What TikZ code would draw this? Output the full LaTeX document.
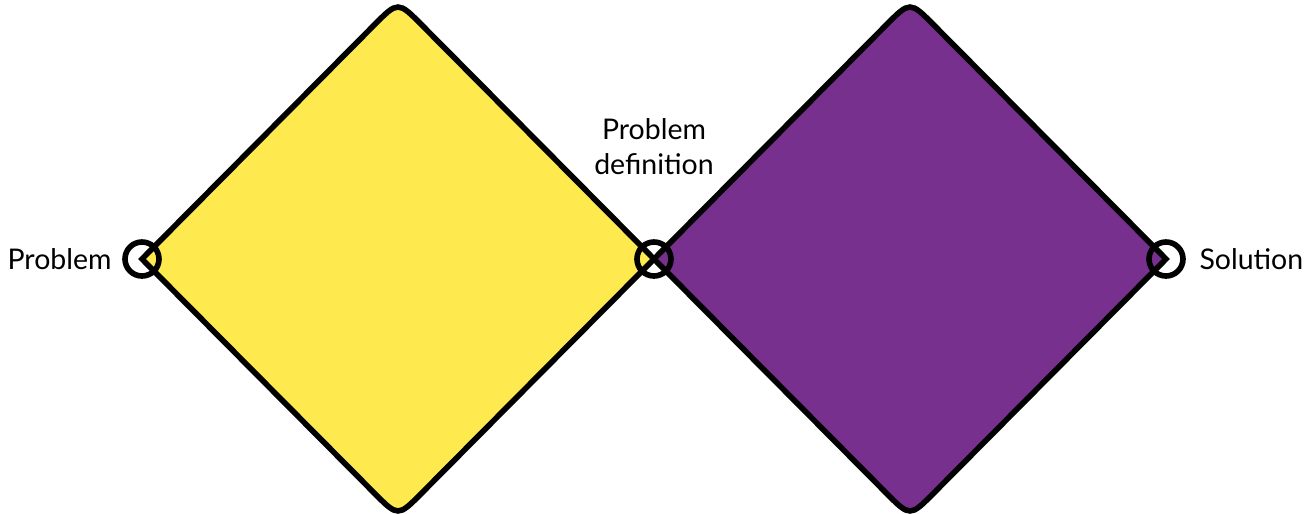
\documentclass[tikz,border=0pt]{standalone}
\definecolor{DYellow}{HTML}{FEE94E}
\definecolor{DPurple}{HTML}{78308F}
\usepackage{fontspec}
\setmainfont{Lato}
\usepackage{tikz}
\usetikzlibrary{positioning,calc}

\begin{document}
\begin{tikzpicture}[
    joint/.style={circle,draw=black,line width=1.6pt,minimum size=0.34cm,inner sep=0pt},
    lab/.style={inner sep=0pt,font=\fontsize{8.1}{10}\selectfont,align=center},
    edge/.style={draw=black,line width=1.6pt,line join=miter}]
    \useasboundingbox (0,0) rectangle (13.15,5.13);
    % corner points
    \coordinate (yl) at (1.42,2.54);
    \coordinate (mid) at (6.54,2.54);
    \coordinate (pr) at (11.66,2.54);
    \coordinate (yt) at (3.98,5.12);
    \coordinate (yb) at (3.98,-0.04);
    \coordinate (pt) at (9.10,5.12);
    \coordinate (pb) at (9.10,-0.04);
    % yellow diamond
    \path[edge,fill=DYellow] (yl) -- ($(yt)!0.34cm!(yl)$) .. controls (yt) .. ($(yt)!0.34cm!(mid)$)
      -- (mid) -- ($(yb)!0.34cm!(mid)$) .. controls (yb) .. ($(yb)!0.34cm!(yl)$) -- cycle;
    % purple diamond
    \path[edge,fill=DPurple] (mid) -- ($(pt)!0.34cm!(mid)$) .. controls (pt) .. ($(pt)!0.34cm!(pr)$)
      -- (pr) -- ($(pb)!0.34cm!(pr)$) .. controls (pb) .. ($(pb)!0.34cm!(mid)$) -- cycle;
    % joints and labels
    \node[joint] (prob) at (yl) {};
    \node[joint] (def) at (mid) {};
    \node[joint] (sol) at (pr) {};
    \node[lab,left=0.10cm of prob] (probtxt) {Problem};
    \node[lab,right=0.13cm of sol] (soltxt) {Solution};
    \node[lab,above=0.64cm of def] (deftxt) {Problem\\definition};
\end{tikzpicture}
\end{document}
